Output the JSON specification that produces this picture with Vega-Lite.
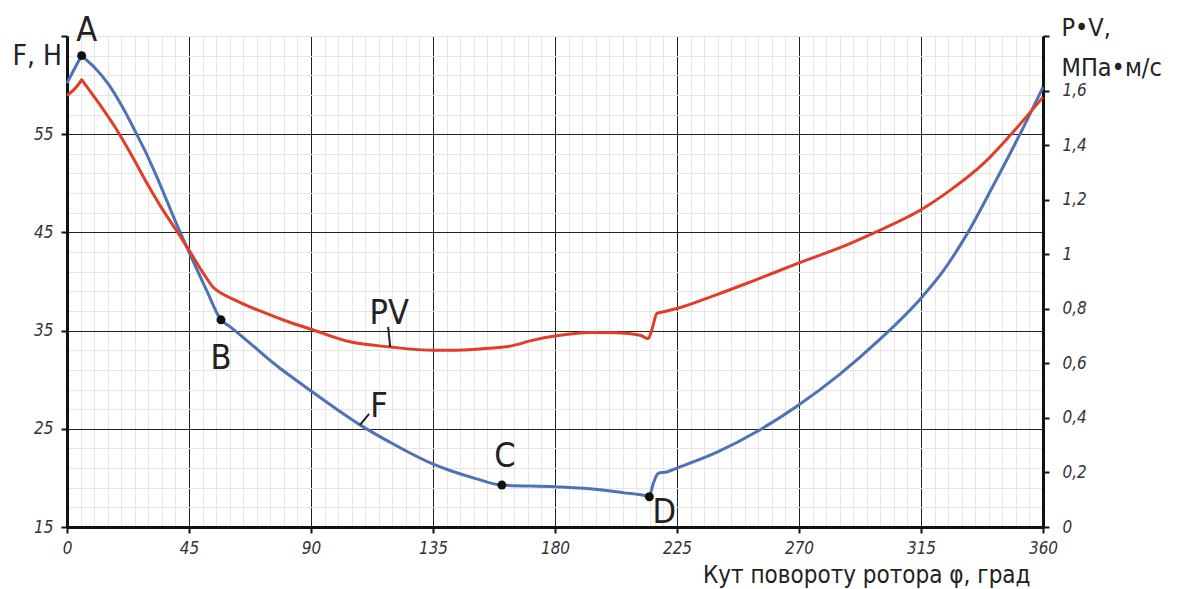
{
  "$schema": "https://vega.github.io/schema/vega-lite/v6.json",
  "width": 976,
  "height": 491,
  "autosize": "none",
  "padding": {"left": 67, "top": 36, "right": 141, "bottom": 62},
  "background": "white",
  "config": {"view": {"stroke": null}, "text": {"font": "DejaVu Sans Condensed"}},
  "datasets": {
    "f": [
      {"deg": 0, "F": 60.2}, {"deg": 4.9, "F": 62.75}, {"deg": 5.4, "F": 63.0}, {"deg": 6.0, "F": 62.85}, {"deg": 10, "F": 61.85}, {"deg": 15, "F": 60.2},
      {"deg": 20, "F": 58.0}, {"deg": 25.7, "F": 55.0}, {"deg": 30, "F": 52.6}, {"deg": 34.3, "F": 49.9},
      {"deg": 41.1, "F": 45.4}, {"deg": 45, "F": 43.0}, {"deg": 51.5, "F": 39.1}, {"deg": 56.8, "F": 36.1},
      {"deg": 60.1, "F": 35.4}, {"deg": 68, "F": 33.6}, {"deg": 76.1, "F": 31.7}, {"deg": 90.3, "F": 28.8},
      {"deg": 100, "F": 26.9}, {"deg": 108.1, "F": 25.4}, {"deg": 120, "F": 23.5}, {"deg": 135.1, "F": 21.4},
      {"deg": 141.3, "F": 20.75}, {"deg": 151.1, "F": 19.9}, {"deg": 160.4, "F": 19.27}, {"deg": 180, "F": 19.1},
      {"deg": 196.6, "F": 18.8}, {"deg": 205, "F": 18.5}, {"deg": 214.3, "F": 18.12}, {"deg": 214.8, "F": 18.08}, {"deg": 215.3, "F": 18.5}, {"deg": 216.3, "F": 19.45},
      {"deg": 218.1, "F": 20.47}, {"deg": 221.2, "F": 20.6}, {"deg": 225, "F": 21.0}, {"deg": 240, "F": 22.65},
      {"deg": 255, "F": 24.8}, {"deg": 270, "F": 27.45}, {"deg": 285, "F": 30.55}, {"deg": 300, "F": 34.15},
      {"deg": 315, "F": 38.3}, {"deg": 323, "F": 41.0}, {"deg": 331.9, "F": 44.8},
      {"deg": 341.7, "F": 49.8}, {"deg": 351.5, "F": 55.0}, {"deg": 360, "F": 59.8}
    ],
    "pv": [
      {"deg": 0, "PV": 1.582}, {"deg": 4.9, "PV": 1.632}, {"deg": 5.4, "PV": 1.64}, {"deg": 6.0, "PV": 1.632}, {"deg": 12, "PV": 1.55}, {"deg": 18, "PV": 1.462}, {"deg": 24, "PV": 1.36},
      {"deg": 29.4, "PV": 1.262}, {"deg": 35, "PV": 1.168}, {"deg": 41.1, "PV": 1.076}, {"deg": 45, "PV": 1.015}, {"deg": 50.3, "PV": 0.93},
      {"deg": 54, "PV": 0.878}, {"deg": 57.1, "PV": 0.856}, {"deg": 62, "PV": 0.832}, {"deg": 67.5, "PV": 0.807}, {"deg": 71.2, "PV": 0.792}, {"deg": 80, "PV": 0.758}, {"deg": 90.3, "PV": 0.724},
      {"deg": 104.4, "PV": 0.679}, {"deg": 119.2, "PV": 0.66}, {"deg": 135.1, "PV": 0.648}, {"deg": 141.3, "PV": 0.648},
      {"deg": 153.6, "PV": 0.654}, {"deg": 163.4, "PV": 0.663}, {"deg": 172, "PV": 0.685}, {"deg": 180, "PV": 0.7},
      {"deg": 193, "PV": 0.713}, {"deg": 202.8, "PV": 0.712}, {"deg": 211.4, "PV": 0.703}, {"deg": 214.4, "PV": 0.691},
      {"deg": 215.7, "PV": 0.722}, {"deg": 217.6, "PV": 0.783}, {"deg": 220, "PV": 0.789}, {"deg": 225, "PV": 0.801},
      {"deg": 239.7, "PV": 0.852}, {"deg": 252, "PV": 0.898}, {"deg": 270, "PV": 0.968}, {"deg": 288.8, "PV": 1.039},
      {"deg": 299.9, "PV": 1.088}, {"deg": 315, "PV": 1.163}, {"deg": 325.7, "PV": 1.234}, {"deg": 338, "PV": 1.332},
      {"deg": 347.9, "PV": 1.436}, {"deg": 360, "PV": 1.576}
    ],
    "pts": [
      {"label": "A", "deg": 5.4, "F": 63.0},
      {"label": "B", "deg": 56.8, "F": 36.1},
      {"label": "C", "deg": 160.4, "F": 19.27},
      {"label": "D", "deg": 214.8, "F": 18.08}
    ],
    "fnote": [{"label": "F", "deg": 108.1, "F": 25.4}],
    "pvnote": [{"label": "PV", "deg": 119.2, "PV": 0.66}]
  },
  "encoding": {
    "x": {
      "field": "deg", "type": "quantitative",
      "scale": {"domain": [0, 360], "nice": false, "zero": false},
      "axis": {
        "values": [0,5,10,15,20,25,30,35,40,45,50,55,60,65,70,75,80,85,90,95,100,105,110,115,120,125,130,135,140,145,150,155,160,165,170,175,180,185,190,195,200,205,210,215,220,225,230,235,240,245,250,255,260,265,270,275,280,285,290,295,300,305,310,315,320,325,330,335,340,345,350,355,360],
        "grid": true,
        "gridColor": {"condition": {"test": "datum.value % 45 === 0 && datum.value > 0 && datum.value < 360", "value": "#222222"}, "value": "#e6e6e6"},
        "gridWidth": 1,
        "labelExpr": "datum.value % 45 === 0 ? datum.label : ''",
        "labelOverlap": false, "labelFlush": false, "labelBound": false,
        "tickOpacity": {"condition": {"test": "datum.value % 45 === 0", "value": 1}, "value": 0},
        "tickSize": 6, "tickWidth": 2, "tickColor": "#111111",
        "domainColor": "#111111", "domainWidth": 3,
        "labelFont": "DejaVu Sans Condensed", "labelFontStyle": "italic", "labelFontSize": 17, "labelColor": "#333333", "labelPadding": 7,
        "title": "Кут повороту ротора φ, град",
        "titleFont": "DejaVu Sans Condensed", "titleFontWeight": "normal", "titleFontSize": 24, "titleColor": "#222222",
        "titleAlign": "right", "titleBaseline": "alphabetic", "titleX": 963, "titleY": 55, "titleAngle": 0
      }
    }
  },
  "layer": [
    {
      "encoding": {
        "y": {
          "field": "F", "type": "quantitative",
          "scale": {"domain": [15, 65], "nice": false, "zero": false},
          "axis": {
            "orient": "left",
            "values": [15,17,19,21,23,25,27,29,31,33,35,37,39,41,43,45,47,49,51,53,55,57,59,61,63,65],
            "grid": true,
            "gridColor": {"condition": {"test": "(datum.value - 15) % 10 === 0 && datum.value > 15 && datum.value < 65", "value": "#222222"}, "value": "#e6e6e6"},
            "gridWidth": 1,
            "labelExpr": "(datum.value - 15) % 10 === 0 && datum.value < 65 ? datum.label : ''",
            "labelOverlap": false, "labelFlush": false, "labelBound": false,
            "tickOpacity": {"condition": {"test": "(datum.value - 15) % 10 === 0", "value": 1}, "value": 0},
            "tickSize": 6, "tickWidth": 2, "tickColor": "#111111",
            "domainColor": "#111111", "domainWidth": 3,
            "labelFont": "DejaVu Sans Condensed", "labelFontStyle": "italic", "labelFontSize": 17, "labelColor": "#333333", "labelPadding": 8,
            "title": "F, H",
            "titleFont": "DejaVu Sans Condensed", "titleFontWeight": "normal", "titleFontSize": 28, "titleColor": "#222222",
            "titleAlign": "left", "titleBaseline": "alphabetic", "titleX": -55, "titleY": 28, "titleAngle": 0
          }
        }
      },
      "layer": [
        {"data": {"name": "f"}, "mark": {"type": "line", "color": "#4f71b6", "strokeWidth": 3, "interpolate": "monotone"}},
        {"data": {"name": "pts"}, "mark": {"type": "circle", "color": "#111111", "opacity": 1, "size": 80}},
        {"data": {"name": "pts"}, "transform": [{"filter": "datum.label === 'A'"}], "mark": {"type": "text", "fontSize": 34, "color": "#222222", "baseline": "alphabetic", "align": "center", "dx": 5, "dy": -15}, "encoding": {"text": {"field": "label"}}},
        {"data": {"name": "pts"}, "transform": [{"filter": "datum.label === 'B'"}], "mark": {"type": "text", "fontSize": 34, "color": "#222222", "baseline": "alphabetic", "align": "center", "dx": 0, "dy": 49}, "encoding": {"text": {"field": "label"}}},
        {"data": {"name": "pts"}, "transform": [{"filter": "datum.label === 'C'"}], "mark": {"type": "text", "fontSize": 34, "color": "#222222", "baseline": "alphabetic", "align": "center", "dx": 3, "dy": -18}, "encoding": {"text": {"field": "label"}}},
        {"data": {"name": "pts"}, "transform": [{"filter": "datum.label === 'D'"}], "mark": {"type": "text", "fontSize": 34, "color": "#222222", "baseline": "alphabetic", "align": "center", "dx": 15, "dy": 26}, "encoding": {"text": {"field": "label"}}},
        {"data": {"name": "fnote"}, "mark": {"type": "rule", "color": "#222222", "strokeWidth": 2, "x2Offset": 9, "y2Offset": -11}, "encoding": {"x2": {"field": "deg"}, "y2": {"field": "F"}}},
        {"data": {"name": "fnote"}, "mark": {"type": "text", "fontSize": 34, "color": "#222222", "baseline": "alphabetic", "align": "center", "dx": 19, "dy": -8}, "encoding": {"text": {"field": "label"}}}
      ]
    },
    {
      "encoding": {
        "y": {
          "field": "PV", "type": "quantitative",
          "scale": {"domain": [0, 1.8], "nice": false, "zero": true},
          "axis": {
            "orient": "right",
            "values": [0, 0.2, 0.4, 0.6, 0.8, 1, 1.2, 1.4, 1.6, 1.8],
            "grid": false,
            "labelExpr": "datum.value > 1.7 ? '' : replace(format(datum.value, '.1~f'), '.', ',')",
            "labelOverlap": false, "labelFlush": false, "labelBound": false,
            "tickSize": 6, "tickWidth": 2, "tickColor": "#111111",
            "domainColor": "#111111", "domainWidth": 3,
            "labelFont": "DejaVu Sans Condensed", "labelFontStyle": "italic", "labelFontSize": 17, "labelColor": "#333333", "labelPadding": 13, "labelAlign": "left",
            "title": ["P•V,", "МПа•м/с"],
            "titleFont": "DejaVu Sans Condensed", "titleFontWeight": "normal", "titleFontSize": 25, "titleColor": "#222222", "titleLineHeight": 40,
            "titleAlign": "left", "titleBaseline": "alphabetic", "titleX": 18, "titleY": -1, "titleAngle": 0
          }
        }
      },
      "layer": [
        {"data": {"name": "pv"}, "mark": {"type": "line", "color": "#e23d29", "strokeWidth": 3, "interpolate": "monotone"}},
        {"data": {"name": "pvnote"}, "mark": {"type": "rule", "color": "#222222", "strokeWidth": 2, "x2Offset": -2, "y2Offset": -20}, "encoding": {"x2": {"field": "deg"}, "y2": {"field": "PV"}}},
        {"data": {"name": "pvnote"}, "mark": {"type": "text", "fontSize": 34, "color": "#222222", "baseline": "alphabetic", "align": "center", "dx": -1, "dy": -23}, "encoding": {"text": {"field": "label"}}}
      ]
    }
  ],
  "resolve": {"scale": {"y": "independent"}, "axis": {"y": "independent"}}
}
